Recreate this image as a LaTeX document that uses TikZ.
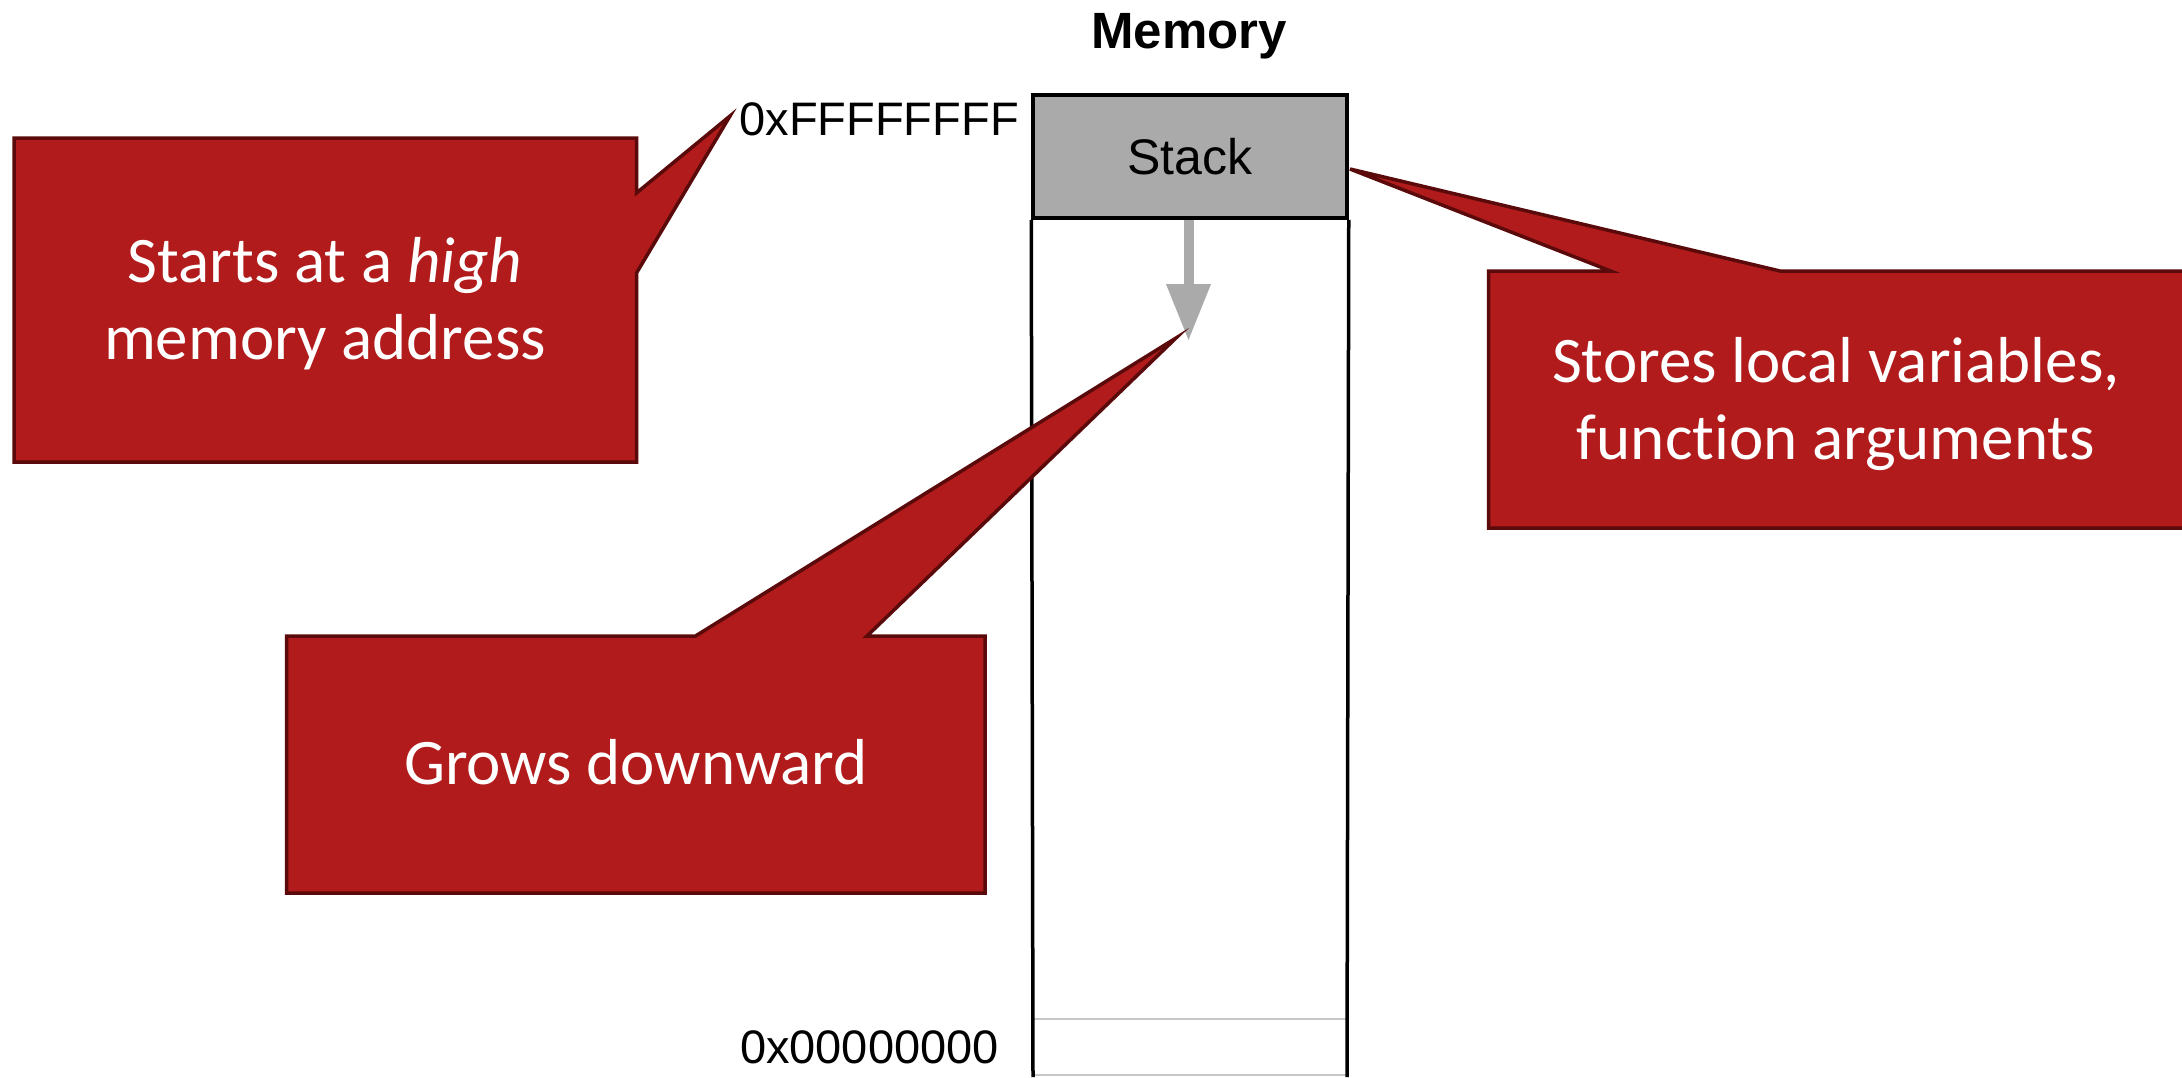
\documentclass[tikz,border=0pt]{standalone}
\usepackage{fontspec}
\usetikzlibrary{arrows.meta}
\newfontfamily\helv{Liberation Sans}
\newfontfamily\calloutfont[Ligatures=NoCommon]{Carlito}
\definecolor{calloutred}{RGB}{177,27,27}
\definecolor{calloutedge}{RGB}{90,10,10}
\definecolor{stackgrey}{RGB}{170,170,170}
\definecolor{rulegrey}{RGB}{200,200,200}
\tikzset{
  callout/.style={fill=calloutred, draw=calloutedge, line width=3.5pt, line join=miter},
  callouttext/.style={text=white, align=center, inner sep=0pt,
    font=\calloutfont\fontsize{65}{77}\selectfont},
  stackbox/.style={draw=black, fill=stackgrey, line width=3.5pt, minimum width=314pt,
    minimum height=123pt, inner sep=0pt, font=\helv\fontsize{50}{60}\selectfont},
  memline/.style={draw=black, line width=3.5pt},
  addr/.style={anchor=base east, inner sep=0pt, font=\helv\fontsize{47}{56}\selectfont},
  growarrow/.style={draw=stackgrey, line width=10pt,
    -{Triangle[length=57pt,width=42pt]}},
}
\begin{document}
\begin{tikzpicture}[x=1pt, y=-1pt]
\clip (0,0) rectangle (2182,1077);
\fill[white] (0,0) rectangle (2182,1077);

% memory column
\node[anchor=base, inner sep=0pt, font=\helv\bfseries\fontsize{51}{60}\selectfont] (title) at (1189,48) {Memory};
\node[stackbox] (stack) at (1190,156.5) {Stack};
\coordinate (colL) at (1033,1077);
\coordinate (colR) at (1347,1077);
\draw[rulegrey, line width=1.5pt] (1033,1019) -- (1347,1019);
\draw[rulegrey, line width=1.5pt] (1033,1075) -- (1347,1075);
\draw[memline] (stack.south west) -- (colL);
\draw[memline] (stack.south east) -- (colR);

% address labels
\node[addr] (high) at (1019,135) {0xFFFFFFFF};
\node[addr] (low) at (999,1063) {0x00000000};

% growth arrow, straight down from the stack box
\coordinate (arrowtip) at (1188.5,341);
\draw[growarrow] (stack.south -| arrowtip) -- (arrowtip);

% callout pointer tips
\coordinate (tipHigh) at (730,116);
\coordinate (tipGrow) at (1176,338);
\coordinate (tipStore) at (1350,169);

% callout: high address
\draw[callout] (14,138) -- (636.5,138) -- (636.5,193) -- (tipHigh) -- (636.5,273)
  -- (636.5,462) -- (14,462) -- cycle;
\node[callouttext] (highnote) at (325,304) {Starts at a \textit{high}\\memory address};

% callout: growth direction
\draw[callout] (286.5,636) -- (695.5,636) -- (tipGrow) -- (867,636) -- (985,636)
  -- (985,893) -- (286.5,893) -- cycle;
\node[callouttext, anchor=base] (grownote) at (636,784) {Grows downward};

% callout: stack contents
\draw[callout] (1488.5,271) -- (1610.6,271) -- (tipStore) -- (1780,271) -- (2192,271)
  -- (2192,528) -- (1488.5,528) -- cycle;
\node[callouttext] (storenote) at (1836,404) {Stores local variables,\\function arguments};
\end{tikzpicture}
\end{document}
